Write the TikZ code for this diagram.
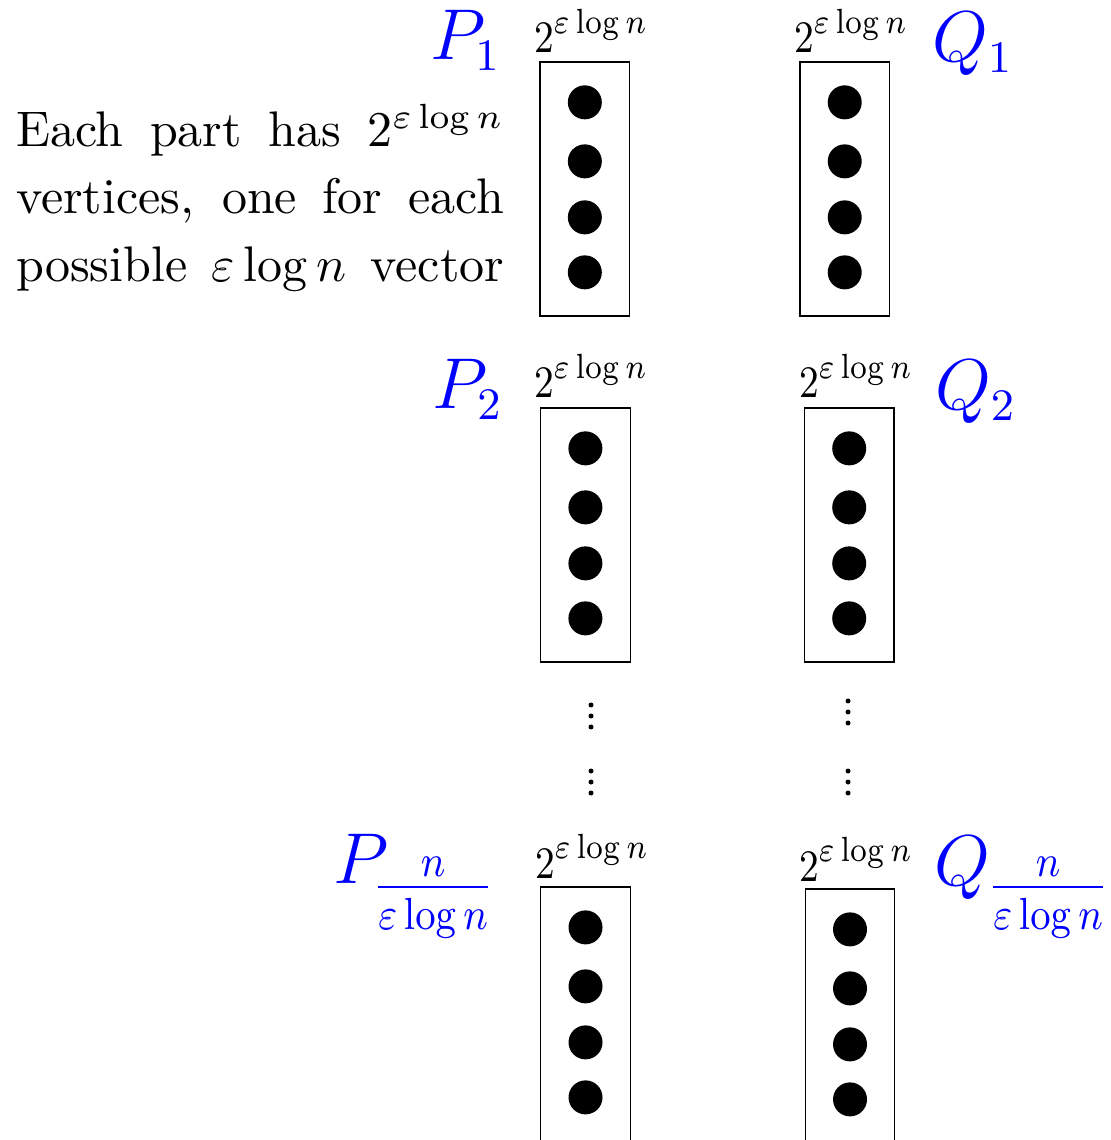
\documentclass[tikz,border=0pt]{standalone}
\usepackage{amsmath}
\usepackage{graphicx}
\newcommand{\szlabel}{\scalebox{0.85}[1]{$2^{\varepsilon\log n}$}}
\newcommand{\fracsub}{\scalebox{0.88}[1]{$\tfrac{n}{\varepsilon\log n}$}}
\begin{document}
\begin{tikzpicture}[x=0.2pt,y=-0.2pt,
  partbox/.style={draw=black,line width=0.25pt,inner sep=0pt,minimum width=17.9pt,minimum height=50.8pt},
  vdot/.style={circle,fill=black,inner sep=0pt,minimum size=17*0.4pt},
  tinydot/.style={circle,fill=black,inner sep=0pt,minimum size=1.0pt},
  sizelbl/.style={anchor=base west,inner sep=0pt,font=\fontsize{9.4}{11}\selectfont},
  partlbl/.style={anchor=base west,inner sep=0pt,text=blue,font=\fontsize{13.5}{16}\selectfont},
  fraclbl/.style={anchor=base west,inner sep=0pt,text=blue,font=\fontsize{13.5}{16}\selectfont},
  txtline/.style={anchor=base west,inner sep=0pt,font=\fontsize{10}{13.5}\selectfont}]
\useasboundingbox (0,0) rectangle (1110,1140);
\clip (0,0) rectangle (1110,1140);
% description
\node[txtline] (t1) at (15,147) {\makebox[97.6pt][s]{Each part has $2^{\varepsilon\log n}$}};
\node[txtline] (t2) at (15,214) {\makebox[97.6pt][s]{vertices, one for each}};
\node[txtline] (t3) at (15,282) {\makebox[97.6pt][s]{possible $\varepsilon\log n$ vector}};
% boxes
\node[partbox] (p1) at (584.8,189) {};
\node[partbox] (q1) at (844.7,189) {};
\node[partbox] (p2) at (585.4,535) {};
\node[partbox] (q2) at (849.2,535) {};
\node[partbox] (pn) at (585.5,1014) {};
\node[partbox] (qn) at (850,1016) {};
% dots inside boxes
\foreach \b in {p1,q1,p2,q2,pn,qn}{
  \foreach \k/\dy in {1/41,2/100,3/156,4/211}{
    \node[vdot] (\b d\k) at ([yshift=-\dy*0.2pt]\b.north) {};
  }
}
% size labels
\node[sizelbl] (sp1) at (533,53) {\szlabel};
\node[sizelbl] (sq1) at (793,53) {\szlabel};
\node[sizelbl] (sp2) at (533,398) {\szlabel};
\node[sizelbl] (sq2) at (798,398) {\szlabel};
\node[sizelbl] (spn) at (534,878) {\szlabel};
\node[sizelbl] (sqn) at (798,881) {\szlabel};
% part labels
\node[partlbl] (lp1) at (429,60) {$P_1$};
\node[partlbl] (lq1) at (931,62) {$Q_1$};
\node[partlbl] (lp2) at (431,409) {$P_2$};
\node[partlbl] (lq2) at (934,410) {$Q_2$};
\node[partlbl] (lpn) at (332,883) {$P$};
\node[fraclbl] (fpn) at (372,905) {\fracsub};
\node[partlbl] (lqn) at (933,885) {$Q$};
\node[fraclbl] (fqn) at (987,905) {\fracsub};
% vertical ellipses
\foreach \y [count=\i] in {705,716,727,771,782,793}{
  \node[tinydot] (lv\i) at (591,\y) {};
}
\foreach \y [count=\i] in {701,712,723,771,782,793}{
  \node[tinydot] (rv\i) at (848,\y) {};
}
\end{tikzpicture}
\end{document}
